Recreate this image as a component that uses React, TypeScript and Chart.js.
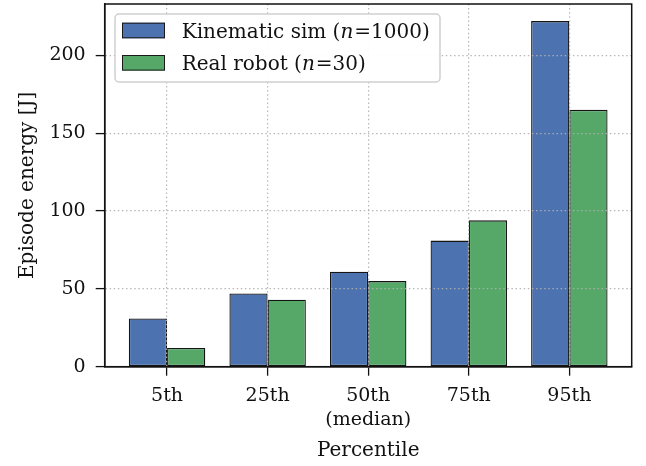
import React, { useEffect, useRef } from "react";
import { Chart, registerables } from "chart.js";

Chart.register(...registerables);

// ---- data ----
const percentiles = ["5th", "25th", "50th\n(median)", "75th", "95th"];
const kinematicSim = [31, 47, 61, 81, 222];
const realRobot = [12, 43, 55, 94, 165];
const seriesLabels = ["Kinematic sim (n=1000)", "Real robot (n=30)"];
const yTicks = [0, 50, 100, 150, 200];

const FONT = "'DejaVu Serif', serif";
const TEXT = "#111111";
const GRID = "rgba(176,176,176,0.9)";

const framePlugin = {
  id: "frame",
  afterDraw(chart: any) {
    const { ctx, chartArea } = chart;
    ctx.save();
    ctx.strokeStyle = TEXT;
    ctx.lineWidth = 1.5;
    ctx.setLineDash([]);
    ctx.strokeRect(chartArea.left, chartArea.top, chartArea.right - chartArea.left, chartArea.bottom - chartArea.top);
    ctx.restore();
  },
};

const boxLegendPlugin = {
  id: "boxLegend",
  afterDraw(chart: any) {
    const { ctx, chartArea } = chart;
    const x0 = chartArea.left + 10.3;
    const y0 = chartArea.top + 10;
    const w = 325;
    const h = 68;
    const r = 4;
    ctx.save();
    ctx.setLineDash([]);
    ctx.beginPath();
    ctx.moveTo(x0 + r, y0);
    ctx.lineTo(x0 + w - r, y0);
    ctx.arcTo(x0 + w, y0, x0 + w, y0 + r, r);
    ctx.lineTo(x0 + w, y0 + h - r);
    ctx.arcTo(x0 + w, y0 + h, x0 + w - r, y0 + h, r);
    ctx.lineTo(x0 + r, y0 + h);
    ctx.arcTo(x0, y0 + h, x0, y0 + h - r, r);
    ctx.lineTo(x0, y0 + r);
    ctx.arcTo(x0, y0, x0 + r, y0, r);
    ctx.closePath();
    ctx.fillStyle = "rgba(255,255,255,0.95)";
    ctx.fill();
    ctx.strokeStyle = "#cfcfcf";
    ctx.lineWidth = 1.5;
    ctx.stroke();

    chart.data.datasets.forEach((ds: any, i: number) => {
      const top = y0 + 8.7 + i * 32.3;
      ctx.fillStyle = ds.backgroundColor;
      ctx.fillRect(x0 + 7, top, 43, 15.6);
      ctx.strokeStyle = "#1a1a1a";
      ctx.lineWidth = 1;
      ctx.strokeRect(x0 + 7.5, top + 0.5, 42, 14.6);

      const label: string = ds.label;
      const m = label.match(/^(.*\()n(=.*)$/);
      const parts: [string, boolean][] = m ? [[m[1], false], ["n", true], [m[2], false]] : [[label, false]];
      let tx = x0 + 66.7;
      const ty = top + 15;
      ctx.fillStyle = TEXT;
      ctx.textBaseline = "alphabetic";
      ctx.textAlign = "left";
      for (const [t, it] of parts) {
        ctx.font = `${it ? "italic " : ""}20px ${FONT}`;
        ctx.fillText(t, tx, ty);
        tx += ctx.measureText(t).width + (it ? 1 : 0);
      }
    });
    ctx.restore();
  },
};

export default function App() {
  const ref = useRef<HTMLCanvasElement | null>(null);

  useEffect(() => {
    document.body.style.margin = "0";
    const canvas = ref.current;
    if (!canvas) return;

    const gridOpts = {
      color: GRID,
      lineWidth: 1.2,
      z: 1,
      offset: false,
      tickColor: TEXT,
      tickLength: 9,
      tickWidth: 1.3,
      tickBorderDash: [],
    };
    const borderOpts = { display: true, color: TEXT, width: 1.5, dash: [1.5, 2.6], z: 1 };

    const chart = new Chart(canvas, {
      type: "bar",
      data: {
        datasets: [
          {
            label: seriesLabels[0],
            data: kinematicSim.map((v, i) => ({ x: i, y: v })),
            backgroundColor: "#4C72B0",
            borderColor: "#141414",
            borderWidth: 1.3,
            borderSkipped: false,
          },
          {
            label: seriesLabels[1],
            data: realRobot.map((v, i) => ({ x: i, y: v })),
            backgroundColor: "#55A868",
            borderColor: "#141414",
            borderWidth: 1.3,
            borderSkipped: false,
          },
        ],
      },
      options: {
        responsive: false,
        animation: false,
        events: [],
        categoryPercentage: 0.76,
        barPercentage: 1,
        layout: { padding: { top: 4, right: 14.3, bottom: 0, left: 0 } },
        plugins: {
          legend: { display: false },
          tooltip: { enabled: false },
        },
        scales: {
          x: {
            type: "linear",
            offset: false,
            min: -0.62,
            max: 4.62,
            afterBuildTicks: (axis: any) => {
              axis.ticks = percentiles.map((_, i) => ({ value: i }));
            },
            afterFit: (axis: any) => {
              axis.height = 99.3;
              axis.paddingLeft = 0;
              axis.paddingRight = 0;
            },
            ticks: {
              callback: (v: any) => (percentiles[Math.round(v)] || "").split("\n"),
              font: { family: FONT, size: 19, lineHeight: 1.28 },
              color: TEXT,
              padding: 8,
              maxRotation: 0,
              autoSkip: false,
            },
            grid: gridOpts,
            border: borderOpts,
            title: {
              display: true,
              text: "Percentile",
              font: { family: FONT, size: 20 },
              color: TEXT,
              padding: { top: 0, bottom: 3 },
            },
          },
          y: {
            min: 0,
            max: 233,
            afterBuildTicks: (axis: any) => {
              axis.ticks = yTicks.map((v) => ({ value: v }));
            },
            afterFit: (axis: any) => {
              axis.width = 104.7;
              axis.paddingTop = 0;
              axis.paddingBottom = 0;
            },
            ticks: {
              font: { family: FONT, size: 19 },
              color: TEXT,
              padding: 10,
            },
            grid: gridOpts,
            border: borderOpts,
            title: {
              display: true,
              text: "Episode energy [J]",
              font: { family: FONT, size: 20 },
              color: TEXT,
              padding: { top: 16, bottom: 0 },
            },
          },
        },
      } as any,
      plugins: [framePlugin, boxLegendPlugin],
    });

    return () => chart.destroy();
  }, []);

  return <canvas ref={ref} width={646} height={466} style={{ display: "block" }} />;
}
